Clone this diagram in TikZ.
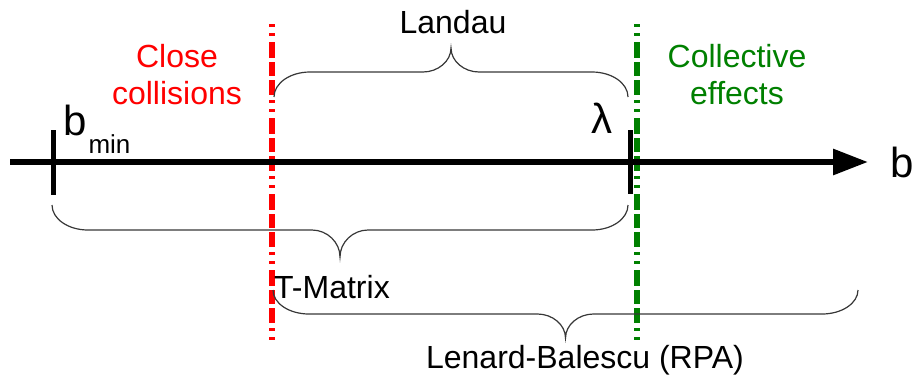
\documentclass[tikz,border=0pt]{standalone}
\usepackage{fontspec}
\setmainfont{Liberation Sans}
\usetikzlibrary{arrows.meta}
\definecolor{closered}{RGB}{255,0,0}
\definecolor{collgreen}{RGB}{0,128,0}
\definecolor{bracegray}{RGB}{55,55,55}

% Horizontal curly brace: x-start, x-end, y of the ends, y of the long stroke, y of the tip
\newcommand{\rangebrace}[5]{%
  \pgfmathsetmacro\bxm{(#1+#2)/2}%
  \pgfmathsetmacro\bya{#3+0.55*(#4-#3)}%
  \pgfmathsetmacro\byb{#4+0.45*(#5-#4)}%
  \draw[bracestroke] (#1,#3) .. controls (#1,\bya) and (#1+16,#4) .. (#1+36,#4)
    -- (\bxm-28,#4) .. controls (\bxm-13,#4) and (\bxm,\byb) .. (\bxm,#5)
    .. controls (\bxm,\byb) and (\bxm+13,#4) .. (\bxm+28,#4)
    -- (#2-36,#4) .. controls (#2-16,#4) and (#2,\bya) .. (#2,#3);
}

\begin{document}
\begin{tikzpicture}[x=1pt,y=-1pt,
  axisline/.style={line width=6pt, -{Triangle[length=35pt,width=25pt]}},
  tickmark/.style={line width=5pt},
  regionline/.style={line width=5.5pt,
    dash pattern=on 3pt off 6pt on 3pt off 6pt on 16pt off 4pt on 14pt off 4pt on 15pt off 5pt},
  bracestroke/.style={line width=1.2pt, draw=bracegray},
  labeltext/.style={inner sep=0pt, font=\fontsize{32}{37}\selectfont, align=center},
  symboltext/.style={inner sep=0pt, font=\fontsize{42}{48}\selectfont}]
\useasboundingbox (0,0) rectangle (915,376);

% boundaries between the regimes
\coordinate (redtop) at (272,24);
\coordinate (redbot) at (272,341);
\coordinate (greentop) at (637,24);
\coordinate (greenbot) at (637,341);
\draw[regionline, closered] (redtop) -- (redbot);
\draw[regionline, collgreen] (greentop) -- (greenbot);

% impact-parameter axis
\coordinate (axstart) at (10,162);
\coordinate (axend) at (868,162);
\draw[axisline] (axstart) -- (axend);

% ticks at b_min and lambda
\coordinate (bmintop) at (53,130);
\coordinate (bminbot) at (53,195);
\coordinate (lamtop) at (630,130);
\coordinate (lambot) at (630,194);
\draw[tickmark] (bmintop) -- (bminbot);
\draw[tickmark] (lamtop) -- (lambot);

% ranges of validity
\rangebrace{274}{628}{97}{72}{48}
\rangebrace{52}{628}{205}{230}{257}
\rangebrace{273}{858}{290}{314}{338}

% labels
\node[labeltext, anchor=base] (landau) at (453,33) {Landau};
\node[labeltext, anchor=north, text=closered] (close) at (177,44) {Close\\collisions};
\node[labeltext, anchor=north, text=collgreen] (collective) at (737,44) {Collective\\effects};
\node[labeltext, anchor=base west] (tmatrix) at (274,298) {T-Matrix};
\node[labeltext, anchor=base] (lenard) at (585,368) {Lenard-Balescu (RPA)};
\node[symboltext, anchor=base west] (bmin) at (63,135)
  {b\kern2pt\raisebox{-18pt}{\fontsize{26}{30}\selectfont min}};
\node[symboltext, anchor=base] (lambda) at (602,133) {λ};
\node[symboltext, anchor=base] (baxis) at (902,177) {b};
\end{tikzpicture}
\end{document}
